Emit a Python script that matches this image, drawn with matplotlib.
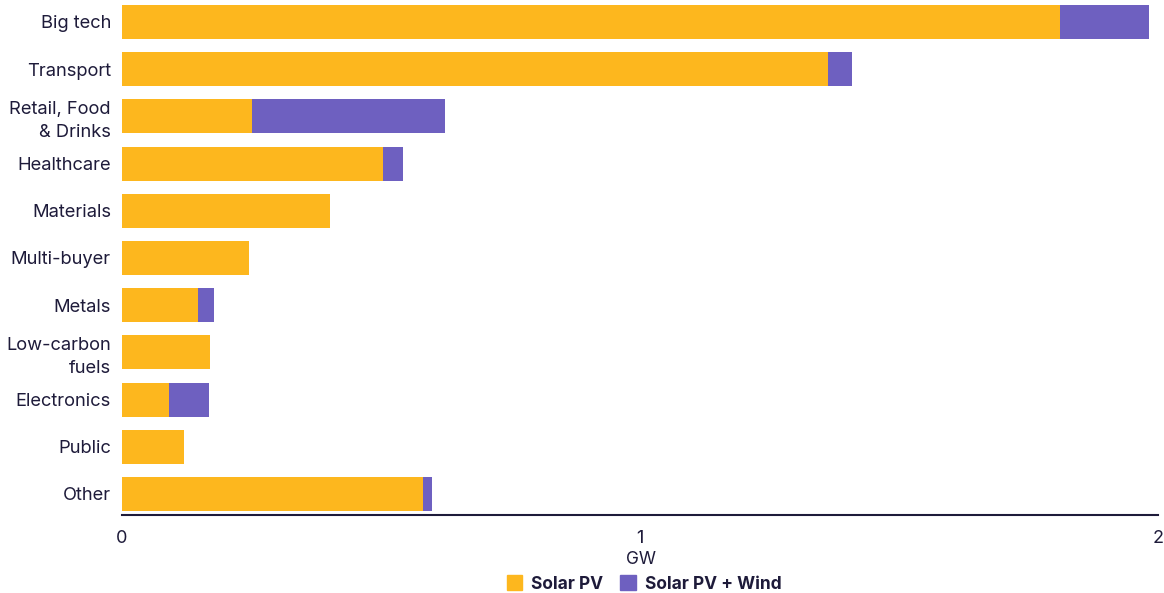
import matplotlib.pyplot as plt
from matplotlib.patches import Patch

# sectors, top to bottom
sectors = ["Big tech", "Transport", "Retail, Food\n& Drinks", "Healthcare",
           "Materials", "Multi-buyer", "Metals", "Low-carbon\nfuels",
           "Electronics", "Public", "Other"]
solar_pv = [1.811, 1.362, 0.251, 0.504, 0.402, 0.245, 0.147, 0.170, 0.091, 0.120, 0.582]
solar_wind = [0.172, 0.047, 0.373, 0.039, 0.0, 0.0, 0.031, 0.0, 0.077, 0.0, 0.017]
x_ticks = [0, 1, 2]

YELLOW = "#FDB71E"
PURPLE = "#6E60C0"
INK = "#1E1B3A"

plt.rcParams["font.family"] = ["Inter", "DejaVu Sans"]

fig = plt.figure(figsize=(11.64, 5.93), dpi=100)
ax = fig.add_axes([122 / 1164, 1 - 515 / 593, 1036 / 1164, 515 / 593])

ypos = list(range(len(sectors)))
ax.barh(ypos, solar_pv, height=0.72, color=YELLOW, linewidth=0)
ax.barh(ypos, solar_wind, left=solar_pv, height=0.72, color=PURPLE, linewidth=0)

ax.set_xlim(0, 2)
ax.set_ylim(10.445, -0.466)
ax.set_yticks(ypos)
ax.set_yticklabels(sectors, fontsize=13.2, color=INK, linespacing=1.4)
ax.set_xticks(x_ticks)
ax.set_xticklabels([str(t) for t in x_ticks], fontsize=13, color=INK)
ax.tick_params(axis="both", length=0)
ax.tick_params(axis="y", pad=8)
ax.tick_params(axis="x", pad=11)

for s in ["top", "right", "left"]:
    ax.spines[s].set_visible(False)
ax.spines["bottom"].set_color(INK)
ax.spines["bottom"].set_linewidth(1.5)

fig.text(641 / 1164, 1 - 559 / 593, "GW", ha="center", va="center",
         fontsize=12.5, color=INK)

handles = [Patch(color=YELLOW, label="Solar PV"),
           Patch(color=PURPLE, label="Solar PV + Wind")]
fig.legend(handles=handles, loc="center", bbox_to_anchor=(644 / 1164, 1 - 584 / 593),
           ncol=2, frameon=False, handlelength=0.9, handleheight=0.9,
           handletextpad=0.5, columnspacing=1.0,
           prop={"weight": "bold", "size": 12.5}, labelcolor=INK,
           borderpad=0)

fig.savefig("out.png", dpi=100)
